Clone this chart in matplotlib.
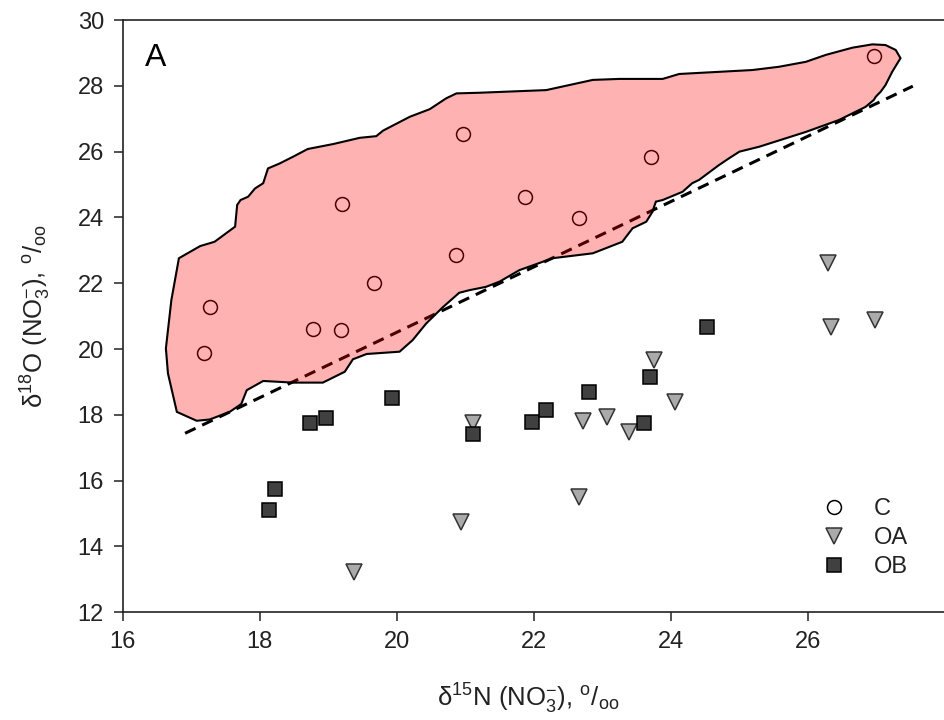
import matplotlib
matplotlib.use("Agg")
import matplotlib.pyplot as plt
from matplotlib.patches import Polygon

plt.rcParams['font.family'] = ['Liberation Sans', 'DejaVu Sans']
plt.rcParams['mathtext.fontset'] = 'custom'
plt.rcParams['mathtext.rm'] = 'Liberation Sans'
plt.rcParams['mathtext.it'] = 'Liberation Sans:italic'
plt.rcParams['mathtext.bf'] = 'Liberation Sans:bold'
plt.rcParams['mathtext.default'] = 'regular'

#--------------------------------------------------------------------------
# Dados
#--------------------------------------------------------------------------
c_n15 = [17.19, 17.27, 18.78, 19.19, 19.20, 19.67, 20.87, 20.96, 21.87, 22.66, 23.71, 26.97]
c_o18 = [19.89, 21.29, 20.60, 20.58, 24.41, 22.00, 22.86, 26.53, 24.61, 23.97, 25.84, 28.91]

oa_n15 = [19.37, 20.94, 21.11, 22.66, 22.71, 23.06, 23.39, 23.76, 24.06, 26.29, 26.33, 26.98]
oa_o18 = [13.23, 14.75, 17.76, 15.51, 17.82, 17.94, 17.49, 19.67, 18.38, 22.62, 20.68, 20.88]

ob_n15 = [18.13, 18.22, 18.73, 18.97, 19.93, 21.11, 21.97, 22.18, 22.81, 23.61, 23.70, 24.52]
ob_o18 = [15.11, 15.74, 17.76, 17.91, 18.52, 17.43, 17.79, 18.15, 18.70, 17.74, 19.14, 20.68]

# linha tracejada
line_n15 = [16.91, 27.53]
line_o18 = [17.44, 27.99]

# contorno da região sombreada
reg_n15 = [16.82, 17.13, 17.34, 17.64, 17.67, 17.72, 17.83, 17.93, 18.05, 18.12,
           18.29, 18.49, 18.70, 19.07, 19.46, 19.70, 19.80, 20.19, 20.48, 20.72,
           20.87, 21.21, 22.18, 22.86, 23.25, 23.88, 24.12, 25.19, 25.58, 25.97,
           26.26, 26.65, 26.94, 27.13, 27.28, 27.35, 27.23, 27.13, 27.06, 26.99,
           26.96, 26.84, 26.45, 25.97, 25.29, 25.00, 24.85, 24.70, 24.41, 24.31,
           24.17, 23.88, 23.78, 23.73, 23.64, 23.44, 23.29, 22.86, 22.27, 22.06,
           21.79, 21.50, 21.30, 21.06, 20.91, 20.67, 20.43, 20.23, 20.04, 19.56,
           19.36, 19.24, 18.92, 18.49, 18.05, 17.81, 17.73, 17.56, 17.27, 17.08,
           16.79, 16.66, 16.63, 16.71]
reg_o18 = [22.76, 23.13, 23.26, 23.72, 24.38, 24.53, 24.63, 24.88, 25.04, 25.49,
           25.64, 25.85, 26.08, 26.23, 26.42, 26.47, 26.64, 27.06, 27.29, 27.62,
           27.77, 27.79, 27.87, 28.18, 28.21, 28.21, 28.36, 28.48, 28.58, 28.73,
           28.94, 29.16, 29.26, 29.24, 29.09, 28.84, 28.43, 28.02, 27.82, 27.67,
           27.57, 27.36, 26.96, 26.60, 26.15, 26.00, 25.80, 25.59, 25.14, 25.04,
           24.78, 24.53, 24.48, 24.17, 23.87, 23.67, 23.26, 22.91, 22.76, 22.60,
           22.40, 22.05, 21.89, 21.79, 21.71, 21.27, 20.78, 20.27, 19.92, 19.85,
           19.69, 19.31, 18.98, 18.98, 19.03, 18.75, 18.33, 18.09, 17.86, 17.82,
           18.09, 19.26, 20.02, 21.49]

xticks = [16, 18, 20, 22, 24, 26]
yticks = [12, 14, 16, 18, 20, 22, 24, 26, 28, 30]

#--------------------------------------------------------------------------
# Gráfico
#--------------------------------------------------------------------------
fig = plt.figure(figsize=(9.44, 7.2), dpi=100)
ax = fig.add_axes([0.13, 0.1496, 0.8711, 0.8226])

txt = '#222222'

ax.plot(line_n15, line_o18, color='black', lw=2.2, linestyle=(0, (3.8, 2.4)), zorder=2)

ax.plot(c_n15, c_o18, 'o', ms=10, mfc='white', mec='black', mew=1.1, zorder=2, label='C')
ax.plot(oa_n15, oa_o18, 'v', ms=11, mfc='#aaaaaa', mec='#333333', mew=1.1, zorder=2, label='OA')
ax.plot(ob_n15, ob_o18, 's', ms=10, mfc='#404040', mec='black', mew=1.1, zorder=2, label='OB')

reg = Polygon(list(zip(reg_n15, reg_o18)), closed=True, facecolor=(1, 0, 0, 0.3),
              edgecolor='black', lw=1.5, zorder=3)
ax.add_patch(reg)

ax.set_xlim(16, 28)
ax.set_ylim(12, 30)
ax.set_xticks(xticks)
ax.set_yticks(yticks)
ax.tick_params(direction='out', length=6.5, width=1.1, color='#222222',
               labelsize=17, labelcolor=txt, pad=7, top=False, right=False)

for s in ['left', 'bottom', 'top']:
    ax.spines[s].set_linewidth(1.2)
    ax.spines[s].set_color('#222222')
ax.spines['right'].set_visible(False)

ax.set_xlabel('δ$^{15}$N (NO$_3^{-}$), $^{o}/_{oo}$', fontsize=18.5, color=txt)
ax.set_ylabel('δ$^{18}$O (NO$_3^{-}$), $^{o}/_{oo}$', fontsize=18.5, color=txt)
ax.xaxis.set_label_coords(0.493, -0.118)
ax.yaxis.set_label_coords(-0.085, 0.5)

ax.text(0.027, 0.923, 'A', transform=ax.transAxes, fontsize=23, ha='left', va='baseline')

ax.legend(loc='lower left', bbox_to_anchor=(0.83, 0.03), frameon=False, fontsize=17,
          handlelength=1.0, handletextpad=1.2, labelspacing=0.3, borderpad=0.2,
          labelcolor=txt)

fig.savefig('out.png', dpi=100)
